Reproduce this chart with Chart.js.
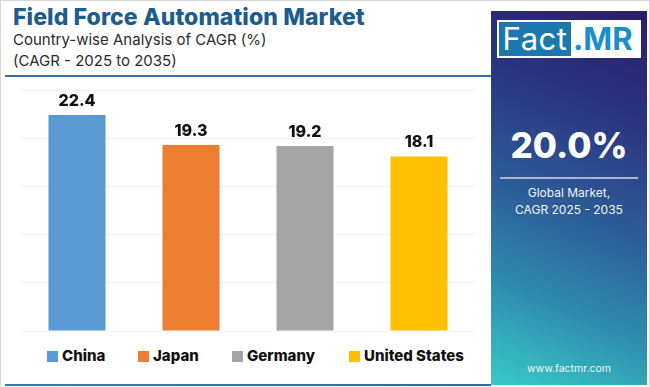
<!DOCTYPE html>
<html>
<head>
<meta charset="utf-8">
<script src="https://cdn.jsdelivr.net/npm/chart.js@4"></script>
<style>
  html,body{margin:0;padding:0;background:#fff;}
  body{width:650px;height:387px;position:relative;overflow:hidden;font-family:Inter,"Noto Sans",sans-serif;}
  .frame{position:absolute;left:0;top:0;width:648px;height:385px;border:1px solid #d6d6d6;border-bottom:none;}
  .title{position:absolute;left:13px;top:3px;font-weight:800;font-size:23px;color:#1c5c8e;white-space:nowrap;letter-spacing:0.1px;}
  .sub{position:absolute;left:13px;font-size:15px;color:#2b2b2b;white-space:nowrap;}
  .rule{position:absolute;left:5px;width:486px;height:2px;background:#2f70a6;}
  .wrap{position:absolute;left:0;top:80px;width:490px;height:260px;}
  .legend{position:absolute;top:346px;left:0;width:490px;height:20px;}
  .legend span{position:absolute;font-weight:800;font-size:15px;color:#111;line-height:20px;white-space:nowrap;}
  .legend i{position:absolute;width:11px;height:11px;top:5px;}
  .panel{position:absolute;left:491px;top:11px;width:156px;height:374px;
    background:linear-gradient(22deg,#38cac6 0%,#2f8aae 25%,#2c5b97 48%,#2b3682 72%,#2a1d6b 100%);}
  .logo{position:absolute;left:6px;top:9px;width:144px;height:38px;background:#fff;}
  .logo .f{position:absolute;left:2px;top:2px;width:72px;height:34px;background:#1b78ad;color:#fff;font-size:31px;line-height:34px;text-align:center;letter-spacing:0.5px;}
  .logo .m{position:absolute;left:76px;top:2px;font-size:31px;line-height:34px;color:#1b8fc6;font-weight:700;}
  .big{position:absolute;left:0;width:156px;top:113px;text-align:center;color:#fff;font-weight:800;font-size:35px;}
  .line{position:absolute;left:9px;width:138px;top:166px;height:2px;background:#a9b6d3;}
  .small{position:absolute;left:0;width:156px;text-align:center;color:#f2f2f2;font-size:12px;}
</style>
</head>
<body>
<div class="frame"></div>
<div class="title">Field Force Automation Market</div>
<div class="sub" style="top:30px">Country-wise Analysis of CAGR (%)</div>
<div class="sub" style="top:51px">(CAGR - 2025 to 2035)</div>
<div class="rule" style="top:75px"></div>
<div class="wrap"><canvas id="c"></canvas></div>
<div class="legend" id="legend"></div>
<div class="rule" style="top:384px;background:linear-gradient(90deg,#2a7fb0,#2f6aa0);"></div>
<div class="panel">
  <div class="logo"><div class="f">Fact</div><div class="m">.MR</div></div>
  <div class="big">20.0%</div>
  <div class="line"></div>
  <div class="small" style="top:174px">Global Market,</div>
  <div class="small" style="top:191px">CAGR 2025 - 2035</div>
  <div class="small" style="top:351px;font-size:10.5px">www.factmr.com</div>
</div>
<script>
const countries = ['China', 'Japan', 'Germany', 'United States'];
const cagr = [22.4, 19.3, 19.2, 18.1];
const barColors = ['#5b9bd5', '#ed7d31', '#a5a5a5', '#ffc000'];
const legendX = [47, 138, 232, 349];

const valueLabels = {
  id: 'valueLabels',
  afterDatasetsDraw(chart){
    const {ctx} = chart;
    const meta = chart.getDatasetMeta(0);
    meta.data.forEach((el, i) => {
      ctx.save();
      ctx.fillStyle = '#111';
      ctx.font = '800 16px Inter, sans-serif';
      ctx.textAlign = 'center';
      ctx.textBaseline = 'bottom';
      ctx.fillText(cagr[i].toFixed(1), el.x, el.y - 6);
      ctx.restore();
    });
  }
};

new Chart(document.getElementById('c'), {
  type: 'bar',
  data: {
    labels: countries,
    datasets: [{
      data: cagr,
      backgroundColor: barColors,
      categoryPercentage: 1,
      barPercentage: 0.5
    }]
  },
  options: {
    responsive: true,
    maintainAspectRatio: false,
    animation: false,
    layout: { padding: { left: 20, right: 14, top: 10, bottom: 9 } },
    plugins: { legend: { display: false }, tooltip: { enabled: false } },
    scales: {
      x: { display: false },
      y: {
        min: 0, max: 25,
        ticks: { display: false, stepSize: 5 },
        grid: { color: '#f3f3f3', drawTicks: false },
        border: { display: false }
      }
    }
  },
  plugins: [valueLabels]
});

const legend = document.getElementById('legend');
countries.forEach((name, i) => {
  const box = document.createElement('i');
  box.style.left = legendX[i] + 'px';
  box.style.background = barColors[i];
  const txt = document.createElement('span');
  txt.style.left = (legendX[i] + 15) + 'px';
  txt.textContent = name;
  legend.appendChild(box);
  legend.appendChild(txt);
});
</script>
</body>
</html>
